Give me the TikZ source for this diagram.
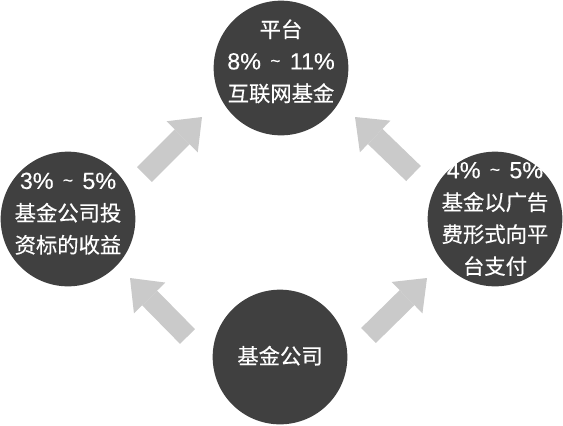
\documentclass[tikz,border=0pt]{standalone}
\usepackage{fontspec}
\setmainfont{Liberation Sans}[FakeBold=0.3]
\newfontfamily\cjk{Noto Sans CJK SC}[FakeBold=0.4]
\usetikzlibrary{arrows.meta}
\definecolor{discgray}{HTML}{404040}
\definecolor{flowgray}{HTML}{CACACA}
\newcommand\pctrange[2]{{\rmfamily\fontsize{17.5}{24}\selectfont #1\%\hspace{0.4em}\raisebox{2pt}{\fontsize{13}{24}\selectfont\textasciitilde}\hspace{0.4em}#2\%}}

\begin{document}
\begin{tikzpicture}[x=0.75pt, y=-0.75pt,
    disc/.style={circle, fill=discgray, minimum size=101pt, inner sep=0pt},
    caption/.style={text=white, align=center, inner sep=0pt, font=\cjk\fontsize{16}{24}\selectfont},
    flow/.style={draw=flowgray, line width=15.75pt, -{Triangle[length=21pt, width=33pt, line width=0pt]}}]
    \useasboundingbox (0,0) rectangle (563,425);

    % the four circles
    \node[disc] (pf)   at (281,68)  {};
    \node[disc] (inv)  at (68,219)  {};
    \node[disc] (ad)   at (495,219) {};
    \node[disc] (fund) at (280,357) {};

    % texts
    \node[caption] (pf-t)   at ([yshift=5pt]pf)   {平台\\\pctrange{8}{11}\\互联网基金};
    \node[caption] (inv-t)  at ([yshift=4pt]inv)  {\pctrange{3}{5}\\基金公司投\\资标的收益};
    \node[caption] (ad-t)   at (ad)               {\pctrange{4}{5}\\基金以广告\\费形式向平\\台支付};
    \node[caption] (fund-t) at ([yshift=1pt]fund) {基金公司};

    % ends of the arrows
    \coordinate (s1) at (144.5,174.5); \coordinate (e1) at (202,117);
    \coordinate (s2) at (413.5,173.5); \coordinate (e2) at (355,117);
    \coordinate (s3) at (187.5,336.5); \coordinate (e3) at (130,278);
    \coordinate (s4) at (368.5,335.5); \coordinate (e4) at (427,278);

    % gray arrows
    \draw[flow] (s1) -- (e1);
    \draw[flow] (s2) -- (e2);
    \draw[flow] (s3) -- (e3);
    \draw[flow] (s4) -- (e4);
\end{tikzpicture}
\end{document}
